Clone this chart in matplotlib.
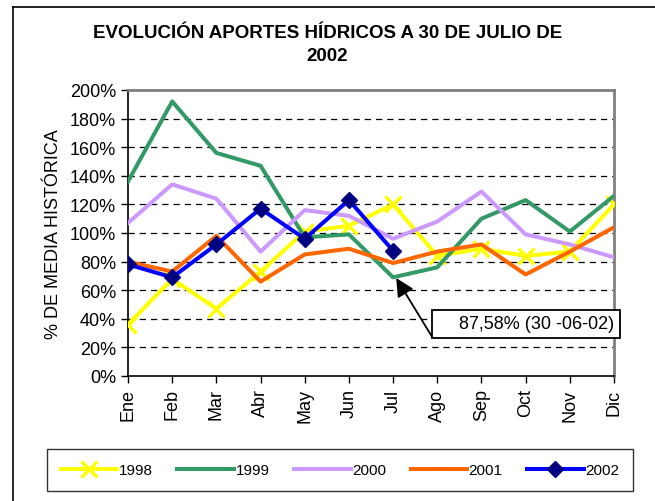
import matplotlib
matplotlib.use("Agg")
import matplotlib.pyplot as plt
from matplotlib.patches import Rectangle
from matplotlib.lines import Line2D
from matplotlib.ticker import MultipleLocator, PercentFormatter

plt.rcParams['font.family'] = ['Liberation Sans', 'DejaVu Sans']

# Data (% of historical mean)
months = ['Ene', 'Feb', 'Mar', 'Abr', 'May', 'Jun', 'Jul', 'Ago', 'Sep', 'Oct', 'Nov', 'Dic']
v1998 = [36, 68, 47, 73, 101, 105, 120, 84, 89, 84, 87, 120]
v1999 = [136, 192, 156, 147, 97, 99, 69, 76, 110, 123, 101, 126]
v2000 = [107, 134, 124, 87, 116, 112, 96, 108, 129, 99, 92, 83]
v2001 = [80, 73, 98, 66, 85, 89, 79, 87, 92, 71, 87, 104]
v2002 = [78, 69, 92, 117, 96, 123, 87.58]

note_text = '87,58% (30 -06-02)'

fig = plt.figure(figsize=(6.55, 5.02), dpi=100)
ax = fig.add_axes([128/655, 1-377/502, 486/655, 286/502])

x = list(range(len(months)))
lw = 2.9
ax.plot(x, v1998, color='#FFFF00', lw=lw, marker='x', ms=12, mew=2.4, label='1998', zorder=3)
ax.plot(x, v1999, color='#339966', lw=lw, label='1999', zorder=4)
ax.plot(x, v2000, color='#CC99FF', lw=lw, label='2000', zorder=5)
ax.plot(x, v2001, color='#FF6600', lw=lw, label='2001', zorder=6)
ax.plot(x[:len(v2002)], v2002, color='#0000FF', lw=lw, marker='D', ms=8,
        mfc='#000080', mec='#000080', label='2002', zorder=7)

ax.set_xlim(0, 11)
ax.set_ylim(0, 200)
ax.yaxis.set_major_locator(MultipleLocator(20))
ax.yaxis.set_major_formatter(PercentFormatter(decimals=0))
ax.set_xticks(x)
ax.set_xticklabels(months, rotation=90)
ax.tick_params(axis='both', direction='out', length=5, width=1, labelsize=13, color='black')
ax.tick_params(axis='x', pad=4)

for v in range(20, 200, 20):
    ax.axhline(v, color='black', lw=0.9, dashes=(5, 4), zorder=1)

for s in ['top', 'right']:
    ax.spines[s].set_color('#808080')
    ax.spines[s].set_linewidth(2)
for s in ['left', 'bottom']:
    ax.spines[s].set_color('black')
    ax.spines[s].set_linewidth(1.2)

ax.set_ylabel('% DE MEDIA HISTÓRICA', fontsize=13, labelpad=6)

# annotation arrow and text box
ax.annotate('', xy=(6.07, 68.5), xytext=(6.88, 27.5),
            arrowprops=dict(arrowstyle='-|>,head_length=1.1,head_width=0.55',
                            color='black', lw=1.3, shrinkA=0, shrinkB=0),
            zorder=9, annotation_clip=False)
ax.add_patch(Rectangle((6.88, 26.8), 4.26, 19.6, facecolor='white', edgecolor='black',
                       lw=1.3, zorder=10, clip_on=False))
ax.text(11.0, 36.6, note_text, ha='right', va='center', fontsize=13, zorder=11)

fig.text(0.5, 1-45/502, 'EVOLUCIÓN APORTES HÍDRICOS A 30 DE JULIO DE\n2002',
         ha='center', va='center', fontsize=13.5, fontweight='bold', linespacing=1.5)

handles, labels = ax.get_legend_handles_labels()
leg = fig.legend(handles, labels, loc='center', ncol=5, mode='expand',
                 bbox_to_anchor=(47/655, 1-492/502, 586/655, 42/502),
                 fontsize=11, frameon=True, fancybox=False, edgecolor='black',
                 handlelength=3.7, handletextpad=0.1, borderaxespad=0, columnspacing=1.0,
                 borderpad=0.9)
leg.get_frame().set_linewidth(1.0)

# outer chart border (left and top edges visible)
fig.add_artist(Line2D([13/655, 13/655], [0, 1-8/502], color='black', lw=1.2))
fig.add_artist(Line2D([13/655, 1], [1-8/502, 1-8/502], color='black', lw=1.2))

fig.savefig('out.png', dpi=100)
